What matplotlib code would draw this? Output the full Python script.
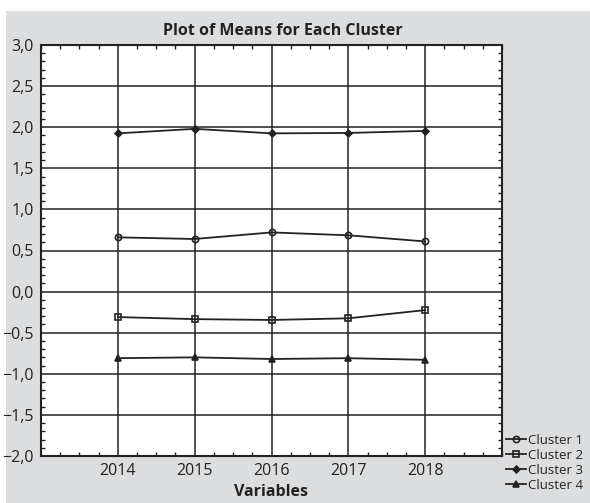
import matplotlib.pyplot as plt
from matplotlib.patches import Rectangle
from matplotlib.ticker import MultipleLocator, FuncFormatter

years = [2014, 2015, 2016, 2017, 2018]
cluster1 = [0.66, 0.64, 0.72, 0.685, 0.61]
cluster2 = [-0.31, -0.335, -0.345, -0.325, -0.225]
cluster3 = [1.925, 1.98, 1.925, 1.93, 1.955]
cluster4 = [-0.81, -0.80, -0.82, -0.81, -0.83]
labels = ['Cluster 1', 'Cluster 2', 'Cluster 3', 'Cluster 4']

plt.rcParams['font.family'] = ['Open Sans', 'DejaVu Sans']

fig = plt.figure(figsize=(5.9, 5.03), dpi=100)
fig.patches.append(Rectangle((6 / 590, 0), 1, 1 - 11 / 503, transform=fig.transFigure,
                             facecolor='#dcdddf', edgecolor='none', zorder=-10))
ax = fig.add_axes([41 / 590, 1 - 456 / 503, 461 / 590, 411 / 503])
ax.set_facecolor('white')

series = [(cluster1, 'o', 'none'), (cluster2, 's', 'none'),
          (cluster3, 'D', '#222222'), (cluster4, '^', '#222222')]
handles = []
for (vals, mk, fc), lab in zip(series, labels):
    ms = 3.5 if mk == 'D' else 4.5
    h, = ax.plot(years, vals, color='#222222', lw=1.3, marker=mk, ms=ms,
                 mfc=fc, mec='#222222', mew=1.2, label=lab)
    handles.append(h)

ax.set_xlim(2013, 2019)
ax.set_ylim(-2.0, 3.0)
ax.set_xticks(years)
ax.xaxis.set_minor_locator(MultipleLocator(0.25))
ax.yaxis.set_major_locator(MultipleLocator(0.5))
ax.yaxis.set_minor_locator(MultipleLocator(0.1))
ax.yaxis.set_major_formatter(FuncFormatter(lambda v, p: ('%.1f' % v).replace('.', ',').replace('-', '\u2212')))
ax.grid(True, which='major', color='#222222', lw=1.1)
ax.tick_params(which='both', direction='in', top=True, right=True, colors='#222222',
               labelcolor='#222222', labelsize=11.5)
ax.tick_params(which='major', length=0, pad=5)
ax.tick_params(which='minor', length=3, width=1)
for s in ax.spines.values():
    s.set_color('#222222')
    s.set_linewidth(1.5)

ax.set_title('Plot of Means for Each Cluster', fontsize=11.5, fontweight='bold',
             color='#222222', pad=7, x=0.525)
ax.set_xlabel('Variables', fontsize=11.5, fontweight='bold', color='#222222', labelpad=4)

fig.legend(handles=handles, loc='upper left', bbox_to_anchor=(506 / 590, 1 - 434 / 503),
           frameon=False, fontsize=9.5, handlelength=1.5, handletextpad=0.2,
           labelspacing=0.15, borderpad=0, borderaxespad=0, labelcolor='#222222')

fig.savefig('out.png', dpi=100)
